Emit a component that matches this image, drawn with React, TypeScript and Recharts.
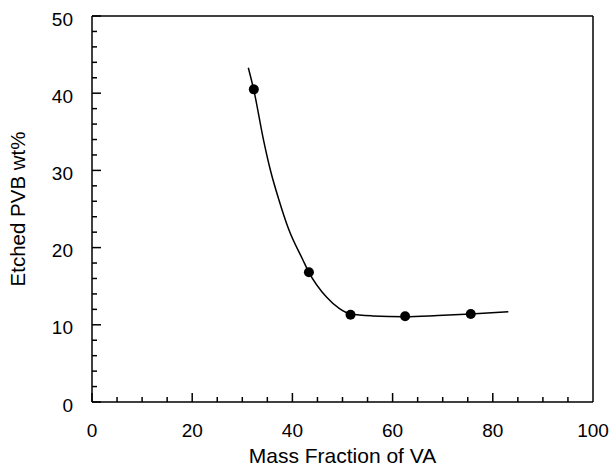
import {
  ComposedChart,
  Line,
  Scatter,
  XAxis,
  YAxis,
  ReferenceLine,
  Label,
} from "recharts";

const FONT = '"Liberation Sans", Arial, Helvetica, sans-serif';

// Measured points (Mass fraction of VA, etched PVB wt%)
const pointX = [32.3, 43.3, 51.6, 62.5, 75.6];
const pointY = [40.5, 16.8, 11.3, 11.1, 11.4];

// Fitted curve
const curveX = [31.2, 32.3, 34.25, 35.6, 37.3, 39.3, 42.1, 43.3, 46.8, 49.4, 51.6, 56.0, 62.5, 69.0, 75.6, 83.1];
const curveY = [43.3, 40.4, 33.9, 30.05, 26.2, 22.3, 18.4, 16.8, 13.6, 12.1, 11.4, 11.15, 11.05, 11.2, 11.4, 11.7];

const xTicks = [0, 5, 10, 15, 20, 25, 30, 35, 40, 45, 50, 55, 60, 65, 70, 75, 80, 85, 90, 95, 100];
const yTicks = [0, 2, 4, 6, 8, 10, 12, 14, 16, 18, 20, 22, 24, 26, 28, 30, 32, 34, 36, 38, 40, 42, 44, 46, 48, 50];

const points = pointX.map((x, i) => ({ x, y: pointY[i] }));
const curve = curveX.map((x, i) => ({ x, y: curveY[i] }));

const XTick = (props: any) => {
  const { x, y, payload } = props;
  const v = payload.value;
  const major = v % 20 === 0;
  return (
    <g>
      {v < 100 && (
        <line x1={x} x2={x} y1={y} y2={y - (major ? 9 : 5)} stroke="#000" strokeWidth={1.5} />
      )}
      {major && (
        <text x={x} y={y + 28} textAnchor="middle" dominantBaseline="central" fontSize={19} fontFamily={FONT} fill="#000">
          {v}
        </text>
      )}
    </g>
  );
};

const YTick = (props: any) => {
  const { x, y, payload } = props;
  const v = payload.value;
  const major = v % 10 === 0;
  return (
    <g>
      <line x1={x} x2={x + (major ? 9 : 5)} y1={y} y2={y} stroke="#000" strokeWidth={1.5} />
      {major && (
        <text x={x - 19} y={y + 3} textAnchor="end" dominantBaseline="central" fontSize={19} fontFamily={FONT} fill="#000">
          {v}
        </text>
      )}
    </g>
  );
};

const Dot = (props: any) => <circle cx={props.cx} cy={props.cy} r={5} fill="#000" />;

export default function App() {
  return (
    <div style={{ position: "absolute", left: 0, top: 0, background: "#fff" }}>
      <ComposedChart width={614} height={467} margin={{ top: 16, right: 21, left: 0, bottom: 0 }}>
        <XAxis
          dataKey="x"
          type="number"
          domain={[0, 100]}
          ticks={xTicks}
          interval={0}
          tickSize={0}
          tickMargin={0}
          tickLine={false}
          tick={XTick}
          height={65}
          axisLine={{ stroke: "#000", strokeWidth: 1.5 }}
        >
          <Label
            content={({ viewBox }: any) => (
              <text
                x={viewBox.x + viewBox.width / 2}
                y={viewBox.y + 61}
                textAnchor="middle"
                fontSize={21}
                fontFamily={FONT}
                fill="#000"
              >
                Mass Fraction of VA
              </text>
            )}
          />
        </XAxis>
        <YAxis
          dataKey="y"
          type="number"
          domain={[0, 50]}
          ticks={yTicks}
          interval={0}
          tickSize={0}
          tickMargin={0}
          tickLine={false}
          tick={YTick}
          width={92}
          axisLine={{ stroke: "#000", strokeWidth: 1.5 }}
        >
          <Label
            content={({ viewBox }: any) => {
              const cy = viewBox.y + viewBox.height / 2;
              return (
                <text
                  x={25}
                  y={cy}
                  transform={`rotate(-90, 25, ${cy})`}
                  textAnchor="middle"
                  fontSize={20.5}
                  fontFamily={FONT}
                  fill="#000"
                >
                  Etched PVB wt%
                </text>
              );
            }}
          />
        </YAxis>
        <ReferenceLine y={50} stroke="#000" strokeWidth={1.5} ifOverflow="visible" />
        <ReferenceLine x={100} stroke="#000" strokeWidth={1.5} ifOverflow="visible" />
        <Line
          data={curve}
          dataKey="y"
          type="monotone"
          stroke="#000"
          strokeWidth={1.5}
          dot={false}
          activeDot={false}
          isAnimationActive={false}
        />
        <Scatter data={points} dataKey="y" fill="#000" shape={Dot} isAnimationActive={false} />
      </ComposedChart>
    </div>
  );
}
